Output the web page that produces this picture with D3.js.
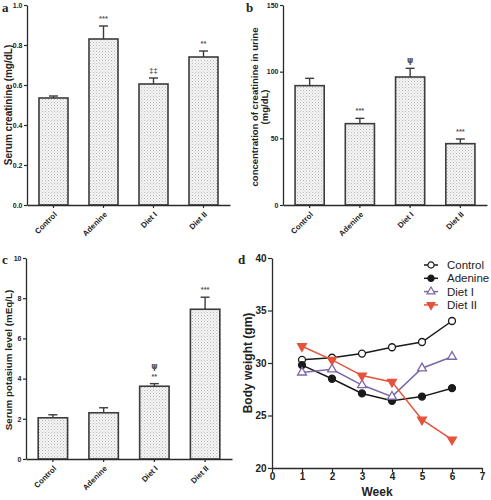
<!DOCTYPE html>
<html><head><meta charset="utf-8">
<script src="https://cdn.jsdelivr.net/npm/d3@7"></script>
<style>body{margin:0;background:#fff}svg{display:block}</style>
</head><body>
<svg id="c" width="491" height="500"></svg>
<script>
const groups = ["Control","Adenine","Diet I","Diet II"];
// panel a: serum creatinine
const creatMean = [0.535,0.83,0.605,0.74];
const creatErr  = [0.545,0.895,0.635,0.77];
const creatSig  = ["","***","‡‡","**"];
const creatTicks = [0,0.2,0.4,0.6,0.8,1.0];
// panel b: urine creatinine
const urineMean = [89.5,61,96,46];
const urineErr  = [95,65,102.5,49.5];
const urineSig  = ["","***","ψ","***"];
const urineTicks = [0,50,100,150];
// panel c: potassium
const potMean = [2.05,2.3,3.62,7.45];
const potErr  = [2.2,2.55,3.75,8.05];
const potSig  = [[],[],["**","ψ"],["***"]];
const potTicks = [0,2,4,6,8,10];
// panel d: body weight
const weeks = [1,2,3,4,5,6];
const wControl = [30.3,30.5,30.9,31.5,32.0,34.0];
const wAdenine = [29.8,28.5,27.1,26.4,26.8,27.6];
const wDiet1   = [29.1,29.4,27.9,26.8,29.5,30.6];
const wDiet2   = [31.6,30.3,28.8,28.2,24.6,22.7];
const weekTicks = [0,1,2,3,4,5,6,7];
const weightTicks = [20,25,30,35,40];

const svg = d3.select("#c");
const defs = svg.append("defs");
const pat = defs.append("pattern").attr("id","dots").attr("patternUnits","userSpaceOnUse")
  .attr("width",3).attr("height",3);
pat.append("rect").attr("width",3).attr("height",3).attr("fill","#f3f3f3");
pat.append("rect").attr("x",0).attr("y",0).attr("width",1).attr("height",1).attr("fill","#bdbdbd");
pat.append("rect").attr("x",1.5).attr("y",1.5).attr("width",1).attr("height",1).attr("fill","#d4d4d4");

const AX = "#2a2a2a";
function styleAxis(g, fs, weight){
  g.selectAll("path.domain").attr("stroke",AX).attr("stroke-width",1.3);
  g.selectAll(".tick line").attr("stroke",AX).attr("stroke-width",1.2);
  g.selectAll(".tick text").attr("fill","#222").attr("font-family","Arial, Liberation Sans, sans-serif")
    .attr("font-size",fs).attr("font-weight",weight);
}

function barPanel(opt){
  const x = d3.scaleBand().domain(groups).range(opt.xr).paddingInner(0.42).paddingOuter(0.24);
  const y = d3.scaleLinear().domain(opt.yd).range(opt.yr);
  const g = svg.append("g");
  g.selectAll("rect.bar").data(opt.mean).join("rect")
    .attr("x",(d,i)=>x(groups[i])).attr("width",x.bandwidth())
    .attr("y",d=>y(d)).attr("height",d=>y(0)-y(d))
    .attr("fill","url(#dots)").attr("stroke","#3c3c3c").attr("stroke-width",1.6);
  opt.err.forEach((e,i)=>{
    const cx = x(groups[i])+x.bandwidth()/2;
    g.append("line").attr("x1",cx).attr("x2",cx).attr("y1",y(opt.mean[i])).attr("y2",y(e))
      .attr("stroke","#3c3c3c").attr("stroke-width",1.4);
    g.append("line").attr("x1",cx-4.5).attr("x2",cx+4.5).attr("y1",y(e)).attr("y2",y(e))
      .attr("stroke","#3c3c3c").attr("stroke-width",1.4);
    const sig = opt.sig[i];
    const arr = Array.isArray(sig)?sig:(sig?[sig]:[]);
    arr.forEach((s,k)=>{
      g.append("text").attr("x",cx).attr("y",y(e)-5-k*10).attr("text-anchor","middle")
        .attr("font-family", s==="ψ" ? "DejaVu Sans, sans-serif" : "Arial, Liberation Sans, sans-serif")
        .attr("font-size",s==="ψ"?8:7.5)
        .attr("font-weight","bold").attr("fill","#555").text(s);
    });
  });
  const ya = g.append("g").attr("transform",`translate(${opt.xr[0]},0)`)
    .call(d3.axisLeft(y).tickValues(opt.ticks).tickFormat(opt.fmt).tickSize(3).tickPadding(1.5).tickSizeOuter(0));
  styleAxis(ya,7,"bold");
  const xa = g.append("g").attr("transform",`translate(0,${opt.yr[0]})`)
    .call(d3.axisBottom(x).tickSize(3).tickSizeOuter(0));
  styleAxis(xa,7.8,"bold");
  xa.selectAll(".tick text").attr("text-anchor","end").attr("dy",0).attr("y",0)
    .attr("transform","translate(4,10) rotate(-45)");
  const t = svg.append("text").attr("transform",`translate(${opt.tx},${opt.ty}) rotate(-90)`)
    .attr("text-anchor","middle").attr("font-family","Arial, Liberation Sans, sans-serif")
    .attr("font-size",opt.tfs).attr("font-weight",opt.tw).attr("fill","#222");
  opt.title.forEach((line,k)=>{
    t.append("tspan").attr("x",0).attr("dy",k===0?0:opt.tlh).text(line);
  });
  svg.append("text").attr("x",opt.lx).attr("y",opt.ly).attr("font-family","Liberation Serif, Times New Roman, serif")
    .attr("font-weight","bold").attr("font-size",13).attr("fill","#222").text(opt.letter);
}

barPanel({xr:[27,230], yr:[205,5], yd:[0,1], mean:creatMean, err:creatErr, sig:creatSig,
  ticks:creatTicks, fmt:d3.format(".1f"), title:["Serum creatinine (mg/dL)"], tx:11.5, ty:105,
  tfs:10, tw:"bold", tlh:0, letter:"a", lx:2, ly:12});
barPanel({xr:[283,487], yr:[205,5], yd:[0,150], mean:urineMean, err:urineErr, sig:urineSig,
  ticks:urineTicks, fmt:d3.format("d"), title:["concentration of creatinine in urine","(mg/dL)"], tx:258, ty:107,
  tfs:9.5, tw:"bold", tlh:10, letter:"b", lx:246, ly:12});
barPanel({xr:[26,232], yr:[459,258], yd:[0,10], mean:potMean, err:potErr, sig:potSig,
  ticks:potTicks, fmt:d3.format("d"), title:["Serum potasium level (mEq/L)"], tx:11.5, ty:360,
  tfs:9.8, tw:"bold", tlh:0, letter:"c", lx:2, ly:264});

// panel d
{
  const x = d3.scaleLinear().domain([0,7]).range([272,482]);
  const y = d3.scaleLinear().domain([20,40]).range([468,258]);
  const g = svg.append("g");
  const xa = g.append("g").attr("transform","translate(0,468)")
    .call(d3.axisBottom(x).tickValues(weekTicks).tickFormat(d3.format("d")).tickSize(4).tickPadding(1).tickSizeOuter(0));
  styleAxis(xa,10,"bold");
  const ya = g.append("g").attr("transform","translate(272,0)")
    .call(d3.axisLeft(y).tickValues(weightTicks).tickFormat(d3.format("d")).tickSize(4).tickPadding(1.5).tickSizeOuter(0));
  styleAxis(ya,10,"bold");
  svg.append("text").attr("x",377).attr("y",496).attr("text-anchor","middle")
    .attr("font-family","Arial, Liberation Sans, sans-serif").attr("font-size",12).attr("font-weight","bold")
    .attr("fill","#222").text("Week");
  svg.append("text").attr("transform","translate(252,363) rotate(-90)").attr("text-anchor","middle")
    .attr("font-family","Arial, Liberation Sans, sans-serif").attr("font-size",12).attr("font-weight","bold")
    .attr("fill","#222").text("Body weight (gm)");
  svg.append("text").attr("x",238).attr("y",264).attr("font-family","Liberation Serif, Times New Roman, serif")
    .attr("font-weight","bold").attr("font-size",13).attr("fill","#222").text("d");

  const series = [
    {name:"Control", vals:wControl, color:"#1a1a1a", sym:d3.symbolCircle, fill:"#fff", size:38},
    {name:"Adenine", vals:wAdenine, color:"#1a1a1a", sym:d3.symbolCircle, fill:"#1a1a1a", size:38},
    {name:"Diet I", vals:wDiet1, color:"#7a68a8", sym:d3.symbolTriangle, fill:"#fff", size:34},
    {name:"Diet II", vals:wDiet2, color:"#e5533c", sym:d3.symbolTriangle, fill:"#e5533c", size:34, rot:180}
  ];
  const line = d3.line().x((d,i)=>x(weeks[i])).y(d=>y(d));
  series.forEach(s=>{
    g.append("path").datum(s.vals).attr("d",line).attr("fill","none").attr("stroke",s.color).attr("stroke-width",1.5);
  });
  series.forEach(s=>{
    g.selectAll(null).data(s.vals).join("path")
      .attr("d",d3.symbol().type(s.sym).size(s.size))
      .attr("transform",(d,i)=>`translate(${x(weeks[i])},${y(d)})${s.rot?" rotate(180)":""}`)
      .attr("fill",s.fill).attr("stroke",s.color).attr("stroke-width",1.3);
  });
  const lg = svg.append("g");
  series.forEach((s,k)=>{
    const yy = 265 + k*13.3;
    lg.append("line").attr("x1",424).attr("x2",438).attr("y1",yy).attr("y2",yy).attr("stroke",s.color).attr("stroke-width",1.5);
    lg.append("path").attr("d",d3.symbol().type(s.sym).size(s.size*0.8))
      .attr("transform",`translate(431,${yy})${s.rot?" rotate(180)":""}`)
      .attr("fill",s.fill).attr("stroke",s.color).attr("stroke-width",1.2);
    lg.append("text").attr("x",447).attr("y",yy+4).attr("font-family","Arial, Liberation Sans, sans-serif")
      .attr("font-size",11.5).attr("fill","#222").text(s.name);
  });
}
</script>
</body></html>
